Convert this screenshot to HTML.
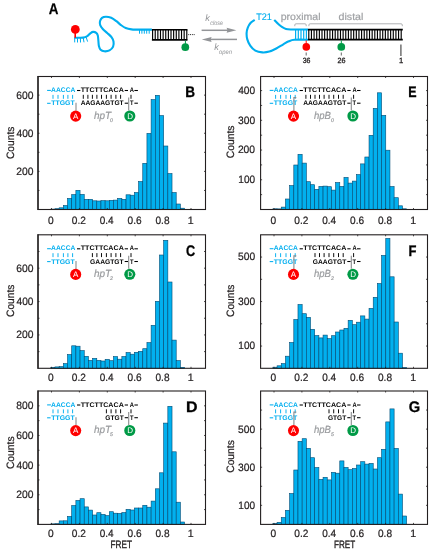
<!DOCTYPE html><html><head><meta charset="utf-8"><style>html,body{margin:0;padding:0;background:#fff}svg{display:block;will-change:transform}</style></head><body><svg width="430" height="550" viewBox="0 0 430 550" font-family='"Liberation Sans", sans-serif' text-rendering="geometricPrecision">
<style>.b{fill:#02b0ee;stroke:#034a73;stroke-width:0.6}</style>
<rect width="430" height="550" fill="#fff"/>
<text x="48.87" y="13.6" font-size="15.4" fill="#000" text-anchor="start" font-weight="bold" font-style="normal" textLength="9.69" lengthAdjust="spacingAndGlyphs" stroke="#000" stroke-width="0.25">A</text>
<path d="M74.30 37.80C75.77 37.77 80.93 37.88 83.10 37.60C85.27 37.32 86.05 36.85 87.30 36.10C88.55 35.35 89.63 33.80 90.60 33.10C91.57 32.40 92.17 31.95 93.10 31.90C94.03 31.85 95.42 32.20 96.20 32.80C96.98 33.40 97.43 34.13 97.80 35.50C98.17 36.87 98.22 39.25 98.40 41.00C98.58 42.75 98.53 44.53 98.90 46.00C99.27 47.47 99.70 48.92 100.60 49.80C101.50 50.68 102.82 51.20 104.30 51.30C105.78 51.40 108.03 51.18 109.50 50.40C110.97 49.62 112.43 48.08 113.10 46.60C113.77 45.12 113.77 43.07 113.50 41.50C113.23 39.93 112.50 38.58 111.50 37.20C110.50 35.82 108.92 34.53 107.50 33.20C106.08 31.87 104.22 30.53 103.00 29.20C101.78 27.87 100.70 26.52 100.20 25.20C99.70 23.88 99.70 22.52 100.00 21.30C100.30 20.08 101.02 18.67 102.00 17.90C102.98 17.13 104.37 16.72 105.90 16.70C107.43 16.68 109.45 17.05 111.20 17.80C112.95 18.55 114.77 19.98 116.40 21.20C118.03 22.42 119.45 23.97 121.00 25.10C122.55 26.23 123.95 27.28 125.70 28.00C127.45 28.72 129.62 29.13 131.50 29.40C133.38 29.67 133.60 29.57 137.00 29.60C140.40 29.63 149.42 29.60 151.90 29.60" fill="none" stroke="#00aeef" stroke-width="2.1" stroke-linecap="butt"/>
<path d="M74.7 37.8L74.7 42.4M77.5 37.8L77.5 42.5M80.4 37.8L80.5 42.5M83.2 37.6L84.0 42.3M86.0 36.8L87.6 41.6" stroke="#00aeef" stroke-width="1.0"/>
<path d="M139.5 29.6V33.7M141.9 29.6V33.7M144.3 29.6V33.7M146.7 29.6V33.7M149.2 29.6V33.7" stroke="#00aeef" stroke-width="1.0"/>
<path d="M75.2 32V37.8" stroke="#fe0000" stroke-width="1.6"/>
<circle cx="75.3" cy="29.4" r="4.4" fill="#fe0000"/>
<path d="M151.9 29.75H187.5M151.9 39.85H187.5" stroke="#000" stroke-width="1.7"/>
<path d="M152.60 30V39.6M155.23 30V39.6M157.86 30V39.6M160.49 30V39.6M163.12 30V39.6M165.75 30V39.6M168.38 30V39.6M171.01 30V39.6M173.64 30V39.6M176.27 30V39.6M178.90 30V39.6M181.53 30V39.6M184.16 30V39.6M186.79 30V39.6" stroke="#000" stroke-width="1.15"/>
<path d="M188.3 34.6H194.6" stroke="#000" stroke-width="0.9" stroke-dasharray="0.9 0.9"/>
<path d="M185.4 40.5V44" stroke="#009a46" stroke-width="1.0"/>
<circle cx="185.3" cy="47.2" r="3.85" fill="#009a46"/>
<path d="M201.6 30.3H229" stroke="#939598" stroke-width="1.5"/>
<path d="M236.4 30.3L226.6 27.8L227.5 30.3L226.6 32.8Z" fill="#939598"/>
<path d="M210 39.4H237" stroke="#939598" stroke-width="1.5"/>
<path d="M201.8 39.4L211.6 36.9L210.7 39.4L211.6 41.9Z" fill="#939598"/>
<text x="205.2" y="20.8" font-size="9.2" fill="#939598" text-anchor="start" font-weight="normal" font-style="italic">k</text>
<text x="210.3" y="24.6" font-size="6.4" fill="#939598" text-anchor="start" font-weight="normal" font-style="italic" textLength="12.6" lengthAdjust="spacingAndGlyphs">close</text>
<text x="214.2" y="50.1" font-size="9.2" fill="#939598" text-anchor="start" font-weight="normal" font-style="italic">k</text>
<text x="218.9" y="53.6" font-size="6.4" fill="#939598" text-anchor="start" font-weight="normal" font-style="italic" textLength="13" lengthAdjust="spacingAndGlyphs">open</text>
<text x="256.2" y="19.9" font-size="9.6" fill="#00aeef" text-anchor="start" font-weight="normal" font-style="normal" textLength="15.65" lengthAdjust="spacingAndGlyphs" stroke="#00aeef" stroke-width="0.15">T21</text>
<path d="M254.70 19.90C254.03 20.38 251.85 21.52 250.70 22.80C249.55 24.08 248.48 25.88 247.80 27.60C247.12 29.32 246.68 31.13 246.60 33.10C246.52 35.07 246.70 37.32 247.30 39.40C247.90 41.48 248.87 43.73 250.20 45.60C251.53 47.47 253.28 49.47 255.30 50.60C257.32 51.73 259.97 52.23 262.30 52.40C264.63 52.57 266.97 52.25 269.30 51.60C271.63 50.95 273.97 49.72 276.30 48.50C278.63 47.28 281.22 45.50 283.30 44.30C285.38 43.10 286.95 42.05 288.80 41.30C290.65 40.55 291.20 40.07 294.40 39.80C297.60 39.53 305.73 39.72 308.00 39.70" fill="none" stroke="#00aeef" stroke-width="2.1"/>
<path d="M274.20 19.90C274.78 20.48 276.42 22.23 277.70 23.40C278.98 24.57 280.52 25.98 281.90 26.90C283.28 27.82 284.38 28.47 286.00 28.90C287.62 29.33 290.20 29.40 291.60 29.50C293.00 29.60 291.67 29.50 294.40 29.50C297.13 29.50 305.73 29.50 308.00 29.50" fill="none" stroke="#00aeef" stroke-width="2.1"/>
<path d="M295.60 29.8V39.4M298.30 29.8V39.4M301.00 29.8V39.4M303.70 29.8V39.4M306.40 29.8V39.4" stroke="#00aeef" stroke-width="1.2"/>
<path d="M307.9 29.6H402.8M307.9 39.6H402.8" stroke="#000" stroke-width="1.7"/>
<path d="M308.80 30V39.3M311.44 30V39.3M314.08 30V39.3M316.72 30V39.3M319.36 30V39.3M322.00 30V39.3M324.64 30V39.3M327.28 30V39.3M329.92 30V39.3M332.56 30V39.3M335.20 30V39.3M337.84 30V39.3M340.48 30V39.3M343.12 30V39.3M345.76 30V39.3M348.40 30V39.3M351.04 30V39.3M353.68 30V39.3M356.32 30V39.3M358.96 30V39.3M361.60 30V39.3M364.24 30V39.3M366.88 30V39.3M369.52 30V39.3M372.16 30V39.3M374.80 30V39.3M377.44 30V39.3M380.08 30V39.3M382.72 30V39.3M385.36 30V39.3M388.00 30V39.3M390.64 30V39.3M393.28 30V39.3M395.92 30V39.3M398.56 30V39.3M401.20 30V39.3" stroke="#000" stroke-width="1.15"/>
<path d="M294.8 26.2V25Q294.8 23.8 296 23.8H305Q306.2 23.8 306.2 25V26.2M308.9 26.2V25Q308.9 23.8 310.1 23.8H401.1Q402.3 23.8 402.3 25V26.2" fill="none" stroke="#a7a9ac" stroke-width="0.9"/>
<text x="280.72" y="20.3" font-size="10" fill="#a0a2a5" text-anchor="start" font-weight="normal" font-style="normal" textLength="39.78" lengthAdjust="spacingAndGlyphs" stroke="#a0a2a5" stroke-width="0.2">proximal</text>
<text x="338.55" y="20" font-size="10" fill="#a0a2a5" text-anchor="start" font-weight="normal" font-style="normal" textLength="24.86" lengthAdjust="spacingAndGlyphs" stroke="#a0a2a5" stroke-width="0.2">distal</text>
<path d="M306.2 40.4V43.5" stroke="#fe0000" stroke-width="1.0"/>
<circle cx="306.3" cy="46.9" r="3.8" fill="#fe0000"/>
<path d="M341.3 40.4V43.5" stroke="#009a46" stroke-width="1.0"/>
<circle cx="341.3" cy="46.9" r="3.85" fill="#009a46"/>
<path d="M306.2 52.5V55.5M341.3 52.5V55.5" stroke="#555" stroke-width="0.9"/>
<path d="M400.9 44.4V55.9" stroke="#666" stroke-width="1.4"/>
<text x="302.63" y="62.6" font-size="7.6" fill="#231f20" text-anchor="start" font-weight="normal" font-style="normal" textLength="7.77" lengthAdjust="spacingAndGlyphs" stroke="#231f20" stroke-width="0.3">36</text>
<text x="337.54" y="62.6" font-size="7.6" fill="#231f20" text-anchor="start" font-weight="normal" font-style="normal" textLength="7.98" lengthAdjust="spacingAndGlyphs" stroke="#231f20" stroke-width="0.3">26</text>
<text x="401" y="62.6" font-size="7.6" fill="#231f20" text-anchor="middle" font-weight="normal" font-style="normal" stroke="#231f20" stroke-width="0.3">1</text>
<rect x="50.8" y="209.1" width="4.18" height="0.4" class="b"/>
<rect x="54.98" y="208.7" width="4.18" height="0.8" class="b"/>
<rect x="59.16" y="207.8" width="4.18" height="1.7" class="b"/>
<rect x="63.34" y="205.5" width="4.18" height="4" class="b"/>
<rect x="67.52" y="198.4" width="4.18" height="11.1" class="b"/>
<rect x="71.7" y="194.6" width="4.18" height="14.9" class="b"/>
<rect x="75.88" y="190.3" width="4.18" height="19.2" class="b"/>
<rect x="80.06" y="194.4" width="4.18" height="15.1" class="b"/>
<rect x="84.24" y="199.3" width="4.18" height="10.2" class="b"/>
<rect x="88.42" y="199.3" width="4.18" height="10.2" class="b"/>
<rect x="92.6" y="200.8" width="4.18" height="8.7" class="b"/>
<rect x="96.78" y="201" width="4.18" height="8.5" class="b"/>
<rect x="100.96" y="200.65" width="4.18" height="8.85" class="b"/>
<rect x="105.14" y="200.8" width="4.18" height="8.7" class="b"/>
<rect x="109.32" y="200.3" width="4.18" height="9.2" class="b"/>
<rect x="113.5" y="200.1" width="4.18" height="9.4" class="b"/>
<rect x="117.68" y="198.4" width="4.18" height="11.1" class="b"/>
<rect x="121.86" y="199.3" width="4.18" height="10.2" class="b"/>
<rect x="126.04" y="194.8" width="4.18" height="14.7" class="b"/>
<rect x="130.22" y="195.2" width="4.18" height="14.3" class="b"/>
<rect x="134.4" y="192.5" width="4.18" height="17" class="b"/>
<rect x="138.58" y="181.5" width="4.18" height="28" class="b"/>
<rect x="142.76" y="163.3" width="4.18" height="46.2" class="b"/>
<rect x="146.94" y="133.4" width="4.18" height="76.1" class="b"/>
<rect x="151.12" y="99.6" width="4.18" height="109.9" class="b"/>
<rect x="155.3" y="95.3" width="4.18" height="114.2" class="b"/>
<rect x="159.48" y="115.6" width="4.18" height="93.9" class="b"/>
<rect x="163.66" y="146" width="4.18" height="63.5" class="b"/>
<rect x="167.84" y="173.6" width="4.18" height="35.9" class="b"/>
<rect x="172.02" y="192.5" width="4.18" height="17" class="b"/>
<rect x="176.2" y="204" width="4.18" height="5.5" class="b"/>
<rect x="180.38" y="208.2" width="4.18" height="1.3" class="b"/>
<rect x="38" y="76.5" width="167.5" height="133" fill="none" stroke="#231f20" stroke-width="1.1"/>
<path d="M38 75.95V210.05" stroke="#231f20" stroke-width="1.3"/>
<path d="M51.5 76.5v1.5M51.5 209.5v-1.5" stroke="#231f20" stroke-width="0.8"/>
<text x="48.05" y="223.5" font-size="10.6" fill="#231f20" text-anchor="start" font-weight="normal" font-style="normal" textLength="5.7" lengthAdjust="spacingAndGlyphs" stroke="#231f20" stroke-width="0.22">0</text>
<path d="M79.4 76.5v1.5M79.4 209.5v-1.5" stroke="#231f20" stroke-width="0.8"/>
<text x="71.8" y="223.5" font-size="10.6" fill="#231f20" text-anchor="start" font-weight="normal" font-style="normal" textLength="14.11" lengthAdjust="spacingAndGlyphs" stroke="#231f20" stroke-width="0.22">0.2</text>
<path d="M107.3 76.5v1.5M107.3 209.5v-1.5" stroke="#231f20" stroke-width="0.8"/>
<text x="99.71" y="223.5" font-size="10.6" fill="#231f20" text-anchor="start" font-weight="normal" font-style="normal" textLength="13.88" lengthAdjust="spacingAndGlyphs" stroke="#231f20" stroke-width="0.22">0.4</text>
<path d="M135.2 76.5v1.5M135.2 209.5v-1.5" stroke="#231f20" stroke-width="0.8"/>
<text x="127.61" y="223.5" font-size="10.6" fill="#231f20" text-anchor="start" font-weight="normal" font-style="normal" textLength="14.04" lengthAdjust="spacingAndGlyphs" stroke="#231f20" stroke-width="0.22">0.6</text>
<path d="M163.1 76.5v1.5M163.1 209.5v-1.5" stroke="#231f20" stroke-width="0.8"/>
<text x="155.51" y="223.5" font-size="10.6" fill="#231f20" text-anchor="start" font-weight="normal" font-style="normal" textLength="14.03" lengthAdjust="spacingAndGlyphs" stroke="#231f20" stroke-width="0.22">0.8</text>
<path d="M191 76.5v1.5M191 209.5v-1.5" stroke="#231f20" stroke-width="0.8"/>
<text x="190.6" y="223.5" font-size="10.6" fill="#231f20" text-anchor="middle" font-weight="normal" font-style="normal" stroke="#231f20" stroke-width="0.22">1</text>
<path d="M38 190.44h1.5M205.5 190.44h-1.5" stroke="#231f20" stroke-width="0.8"/>
<path d="M38 171.38h1.5M205.5 171.38h-1.5" stroke="#231f20" stroke-width="0.8"/>
<text x="16.28" y="174.78" font-size="10.7" fill="#231f20" text-anchor="start" font-weight="normal" font-style="normal" textLength="17.22" lengthAdjust="spacingAndGlyphs" stroke="#231f20" stroke-width="0.22">200</text>
<path d="M38 152.32h1.5M205.5 152.32h-1.5" stroke="#231f20" stroke-width="0.8"/>
<path d="M38 133.26h1.5M205.5 133.26h-1.5" stroke="#231f20" stroke-width="0.8"/>
<text x="16.57" y="136.66" font-size="10.7" fill="#231f20" text-anchor="start" font-weight="normal" font-style="normal" textLength="16.93" lengthAdjust="spacingAndGlyphs" stroke="#231f20" stroke-width="0.22">400</text>
<path d="M38 114.2h1.5M205.5 114.2h-1.5" stroke="#231f20" stroke-width="0.8"/>
<path d="M38 95.14h1.5M205.5 95.14h-1.5" stroke="#231f20" stroke-width="0.8"/>
<text x="16.28" y="98.54" font-size="10.7" fill="#231f20" text-anchor="start" font-weight="normal" font-style="normal" textLength="17.23" lengthAdjust="spacingAndGlyphs" stroke="#231f20" stroke-width="0.22">600</text>
<text x="-0.52" y="0" font-size="10.7" fill="#231f20" textLength="32.39" lengthAdjust="spacingAndGlyphs" transform="translate(13.5 158.5) rotate(-90)" stroke="#231f20" stroke-width="0.22">Counts</text>
<text x="51.13" y="92" font-size="6.7" fill="#00aeef" text-anchor="start" font-weight="bold" font-style="normal" textLength="24.24" lengthAdjust="spacingAndGlyphs">AACCA</text>
<text x="51.22" y="105.3" font-size="6.7" fill="#00aeef" text-anchor="start" font-weight="bold" font-style="normal" textLength="23.55" lengthAdjust="spacingAndGlyphs">TTGGT</text>
<text x="80.72" y="92" font-size="6.7" fill="#000" text-anchor="start" font-weight="bold" font-style="normal" textLength="43.07" lengthAdjust="spacingAndGlyphs">TTCTTCACA</text>
<text x="129.86" y="92" font-size="6.7" fill="#000" text-anchor="start" font-weight="bold" font-style="normal" textLength="4.2" lengthAdjust="spacingAndGlyphs">A</text>
<text x="80.63" y="105.3" font-size="6.7" fill="#000" text-anchor="start" font-weight="bold" font-style="normal" textLength="43.04" lengthAdjust="spacingAndGlyphs">AAGAAGTGT</text>
<text x="129.94" y="105.3" font-size="6.7" fill="#000" text-anchor="start" font-weight="bold" font-style="normal" textLength="3.53" lengthAdjust="spacingAndGlyphs">T</text>
<rect x="47.10" y="89.88" width="3.80" height="1.05" fill="#00aeef"/>
<rect x="47.10" y="102.78" width="3.50" height="1.05" fill="#00aeef"/>
<rect x="77.00" y="89.98" width="3.30" height="1.05" fill="#000"/>
<rect x="124.70" y="89.98" width="3.30" height="1.05" fill="#000"/>
<rect x="134.40" y="89.98" width="3.50" height="1.05" fill="#000"/>
<rect x="124.70" y="102.68" width="3.30" height="1.05" fill="#000"/>
<rect x="134.40" y="102.68" width="3.50" height="1.05" fill="#000"/>
<path d="M53.00 94.90V98.80M58.00 94.90V98.80M63.40 94.90V98.80M67.90 94.90V98.80M72.60 94.90V98.80" stroke="#00aeef" stroke-width="0.95"/>
<path d="M83.30 94.80V98.80M87.90 94.80V98.80M92.40 94.80V98.80M96.90 94.80V98.80M101.50 94.80V98.80M106.40 94.80V98.80M111.10 94.80V98.80M115.90 94.80V98.80M120.60 94.80V98.80M131.00 94.80V98.80" stroke="#000" stroke-width="0.95"/>
<path d="M128.70 97.40V110.50" stroke="#8a8c8e" stroke-width="1.1"/>
<path d="M76.00 102.80V110.60" stroke="#8a8c8e" stroke-width="1.1"/>
<circle cx="75.70" cy="116.10" r="5.55" fill="#fe0000"/>
<text x="75.7" y="118.9" font-size="8" fill="#fff" text-anchor="middle" font-weight="normal" font-style="normal">A</text>
<circle cx="129.80" cy="116.00" r="5.55" fill="#009a46"/>
<text x="130.1" y="118.8" font-size="8" fill="#fff" text-anchor="middle" font-weight="normal" font-style="normal">D</text>
<text x="94" y="118.8" font-size="10.4" fill="#9a9c9f" text-anchor="start" font-weight="normal" font-style="italic" textLength="17.2" lengthAdjust="spacingAndGlyphs" stroke="#9a9c9f" stroke-width="0.2">hpT</text>
<text x="110.1" y="121.5" font-size="5.2" fill="#9a9c9f" text-anchor="start" font-weight="normal" font-style="italic" stroke="#9a9c9f" stroke-width="0.2">0</text>
<text x="185.19" y="96.8" font-size="15.3" fill="#000" text-anchor="start" font-weight="bold" font-style="normal" textLength="9.83" lengthAdjust="spacingAndGlyphs" stroke="#000" stroke-width="0.3">B</text>
<rect x="50.8" y="367.3" width="4.18" height="1" class="b"/>
<rect x="54.98" y="366.9" width="4.18" height="1.4" class="b"/>
<rect x="59.16" y="366.6" width="4.18" height="1.7" class="b"/>
<rect x="63.34" y="363.6" width="4.18" height="4.7" class="b"/>
<rect x="67.52" y="354.5" width="4.18" height="13.8" class="b"/>
<rect x="71.7" y="345.8" width="4.18" height="22.5" class="b"/>
<rect x="75.88" y="346.2" width="4.18" height="22.1" class="b"/>
<rect x="80.06" y="350.6" width="4.18" height="17.7" class="b"/>
<rect x="84.24" y="356.3" width="4.18" height="12" class="b"/>
<rect x="88.42" y="360.4" width="4.18" height="7.9" class="b"/>
<rect x="92.6" y="358.4" width="4.18" height="9.9" class="b"/>
<rect x="96.78" y="360.4" width="4.18" height="7.9" class="b"/>
<rect x="100.96" y="361" width="4.18" height="7.3" class="b"/>
<rect x="105.14" y="359.3" width="4.18" height="9" class="b"/>
<rect x="109.32" y="360.7" width="4.18" height="7.6" class="b"/>
<rect x="113.5" y="356.6" width="4.18" height="11.7" class="b"/>
<rect x="117.68" y="359.2" width="4.18" height="9.1" class="b"/>
<rect x="121.86" y="356.5" width="4.18" height="11.8" class="b"/>
<rect x="126.04" y="352.5" width="4.18" height="15.8" class="b"/>
<rect x="130.22" y="354.2" width="4.18" height="14.1" class="b"/>
<rect x="134.4" y="352.3" width="4.18" height="16" class="b"/>
<rect x="138.58" y="351.3" width="4.18" height="17" class="b"/>
<rect x="142.76" y="348.7" width="4.18" height="19.6" class="b"/>
<rect x="146.94" y="342.6" width="4.18" height="25.7" class="b"/>
<rect x="151.12" y="325.3" width="4.18" height="43" class="b"/>
<rect x="155.3" y="301.3" width="4.18" height="67" class="b"/>
<rect x="159.48" y="255" width="4.18" height="113.3" class="b"/>
<rect x="163.66" y="240.3" width="4.18" height="128" class="b"/>
<rect x="167.84" y="282" width="4.18" height="86.3" class="b"/>
<rect x="172.02" y="340.1" width="4.18" height="28.2" class="b"/>
<rect x="176.2" y="360.6" width="4.18" height="7.7" class="b"/>
<rect x="180.38" y="367.3" width="4.18" height="1" class="b"/>
<rect x="38" y="234.8" width="167.5" height="133.5" fill="none" stroke="#231f20" stroke-width="1.1"/>
<path d="M38 234.25V368.85" stroke="#231f20" stroke-width="1.3"/>
<path d="M51.5 234.8v1.5M51.5 368.3v-1.5" stroke="#231f20" stroke-width="0.8"/>
<text x="48.05" y="380.8" font-size="10.6" fill="#231f20" text-anchor="start" font-weight="normal" font-style="normal" textLength="5.7" lengthAdjust="spacingAndGlyphs" stroke="#231f20" stroke-width="0.22">0</text>
<path d="M79.4 234.8v1.5M79.4 368.3v-1.5" stroke="#231f20" stroke-width="0.8"/>
<text x="71.8" y="380.8" font-size="10.6" fill="#231f20" text-anchor="start" font-weight="normal" font-style="normal" textLength="14.11" lengthAdjust="spacingAndGlyphs" stroke="#231f20" stroke-width="0.22">0.2</text>
<path d="M107.3 234.8v1.5M107.3 368.3v-1.5" stroke="#231f20" stroke-width="0.8"/>
<text x="99.71" y="380.8" font-size="10.6" fill="#231f20" text-anchor="start" font-weight="normal" font-style="normal" textLength="13.88" lengthAdjust="spacingAndGlyphs" stroke="#231f20" stroke-width="0.22">0.4</text>
<path d="M135.2 234.8v1.5M135.2 368.3v-1.5" stroke="#231f20" stroke-width="0.8"/>
<text x="127.61" y="380.8" font-size="10.6" fill="#231f20" text-anchor="start" font-weight="normal" font-style="normal" textLength="14.04" lengthAdjust="spacingAndGlyphs" stroke="#231f20" stroke-width="0.22">0.6</text>
<path d="M163.1 234.8v1.5M163.1 368.3v-1.5" stroke="#231f20" stroke-width="0.8"/>
<text x="155.51" y="380.8" font-size="10.6" fill="#231f20" text-anchor="start" font-weight="normal" font-style="normal" textLength="14.03" lengthAdjust="spacingAndGlyphs" stroke="#231f20" stroke-width="0.22">0.8</text>
<path d="M191 234.8v1.5M191 368.3v-1.5" stroke="#231f20" stroke-width="0.8"/>
<text x="190.6" y="380.8" font-size="10.6" fill="#231f20" text-anchor="middle" font-weight="normal" font-style="normal" stroke="#231f20" stroke-width="0.22">1</text>
<path d="M38 351.61h1.5M205.5 351.61h-1.5" stroke="#231f20" stroke-width="0.8"/>
<path d="M38 334.93h1.5M205.5 334.93h-1.5" stroke="#231f20" stroke-width="0.8"/>
<text x="16.28" y="338.32" font-size="10.7" fill="#231f20" text-anchor="start" font-weight="normal" font-style="normal" textLength="17.22" lengthAdjust="spacingAndGlyphs" stroke="#231f20" stroke-width="0.22">200</text>
<path d="M38 318.24h1.5M205.5 318.24h-1.5" stroke="#231f20" stroke-width="0.8"/>
<path d="M38 301.55h1.5M205.5 301.55h-1.5" stroke="#231f20" stroke-width="0.8"/>
<text x="16.57" y="304.95" font-size="10.7" fill="#231f20" text-anchor="start" font-weight="normal" font-style="normal" textLength="16.93" lengthAdjust="spacingAndGlyphs" stroke="#231f20" stroke-width="0.22">400</text>
<path d="M38 284.86h1.5M205.5 284.86h-1.5" stroke="#231f20" stroke-width="0.8"/>
<path d="M38 268.18h1.5M205.5 268.18h-1.5" stroke="#231f20" stroke-width="0.8"/>
<text x="16.28" y="271.57" font-size="10.7" fill="#231f20" text-anchor="start" font-weight="normal" font-style="normal" textLength="17.23" lengthAdjust="spacingAndGlyphs" stroke="#231f20" stroke-width="0.22">600</text>
<path d="M38 251.49h1.5M205.5 251.49h-1.5" stroke="#231f20" stroke-width="0.8"/>
<text x="-0.52" y="0" font-size="10.7" fill="#231f20" textLength="32.29" lengthAdjust="spacingAndGlyphs" transform="translate(13.5 316.4) rotate(-90)" stroke="#231f20" stroke-width="0.22">Counts</text>
<text x="51.13" y="250.3" font-size="6.7" fill="#00aeef" text-anchor="start" font-weight="bold" font-style="normal" textLength="24.24" lengthAdjust="spacingAndGlyphs">AACCA</text>
<text x="51.22" y="263.6" font-size="6.7" fill="#00aeef" text-anchor="start" font-weight="bold" font-style="normal" textLength="23.55" lengthAdjust="spacingAndGlyphs">TTGGT</text>
<text x="80.72" y="250.3" font-size="6.7" fill="#000" text-anchor="start" font-weight="bold" font-style="normal" textLength="43.07" lengthAdjust="spacingAndGlyphs">TTCTTCACA</text>
<text x="129.86" y="250.3" font-size="6.7" fill="#000" text-anchor="start" font-weight="bold" font-style="normal" textLength="4.2" lengthAdjust="spacingAndGlyphs">A</text>
<text x="90.12" y="263.6" font-size="6.7" fill="#000" text-anchor="start" font-weight="bold" font-style="normal" textLength="33.55" lengthAdjust="spacingAndGlyphs">GAAGTGT</text>
<text x="129.94" y="263.6" font-size="6.7" fill="#000" text-anchor="start" font-weight="bold" font-style="normal" textLength="3.53" lengthAdjust="spacingAndGlyphs">T</text>
<rect x="47.10" y="248.18" width="3.80" height="1.05" fill="#00aeef"/>
<rect x="47.10" y="261.08" width="3.50" height="1.05" fill="#00aeef"/>
<rect x="77.00" y="248.28" width="3.30" height="1.05" fill="#000"/>
<rect x="124.70" y="248.28" width="3.30" height="1.05" fill="#000"/>
<rect x="134.40" y="248.28" width="3.50" height="1.05" fill="#000"/>
<rect x="124.70" y="260.98" width="3.30" height="1.05" fill="#000"/>
<rect x="134.40" y="260.98" width="3.50" height="1.05" fill="#000"/>
<path d="M53.00 253.20V257.10M58.00 253.20V257.10M63.40 253.20V257.10M67.90 253.20V257.10M72.60 253.20V257.10" stroke="#00aeef" stroke-width="0.95"/>
<path d="M92.40 253.10V257.10M96.90 253.10V257.10M101.50 253.10V257.10M106.40 253.10V257.10M111.10 253.10V257.10M115.90 253.10V257.10M120.60 253.10V257.10M131.00 253.10V257.10" stroke="#000" stroke-width="0.95"/>
<path d="M128.70 255.70V268.80" stroke="#8a8c8e" stroke-width="1.1"/>
<path d="M76.00 261.10V268.90" stroke="#8a8c8e" stroke-width="1.1"/>
<circle cx="75.70" cy="274.40" r="5.55" fill="#fe0000"/>
<text x="75.7" y="277.2" font-size="8" fill="#fff" text-anchor="middle" font-weight="normal" font-style="normal">A</text>
<circle cx="129.80" cy="274.30" r="5.55" fill="#009a46"/>
<text x="130.1" y="277.1" font-size="8" fill="#fff" text-anchor="middle" font-weight="normal" font-style="normal">D</text>
<text x="94" y="277.1" font-size="10.4" fill="#9a9c9f" text-anchor="start" font-weight="normal" font-style="italic" textLength="17.2" lengthAdjust="spacingAndGlyphs" stroke="#9a9c9f" stroke-width="0.2">hpT</text>
<text x="110.1" y="279.8" font-size="5.2" fill="#9a9c9f" text-anchor="start" font-weight="normal" font-style="italic" stroke="#9a9c9f" stroke-width="0.2">2</text>
<text x="185.98" y="256" font-size="15.3" fill="#000" text-anchor="start" font-weight="bold" font-style="normal" textLength="9.17" lengthAdjust="spacingAndGlyphs" stroke="#000" stroke-width="0.3">C</text>
<rect x="50.8" y="523.9" width="4.18" height="0.5" class="b"/>
<rect x="54.98" y="523.7" width="4.18" height="0.7" class="b"/>
<rect x="59.16" y="520.9" width="4.18" height="3.5" class="b"/>
<rect x="63.34" y="520.8" width="4.18" height="3.6" class="b"/>
<rect x="67.52" y="516.4" width="4.18" height="8" class="b"/>
<rect x="71.7" y="505.5" width="4.18" height="18.9" class="b"/>
<rect x="75.88" y="500.4" width="4.18" height="24" class="b"/>
<rect x="80.06" y="498.7" width="4.18" height="25.7" class="b"/>
<rect x="84.24" y="506.9" width="4.18" height="17.5" class="b"/>
<rect x="88.42" y="510.1" width="4.18" height="14.3" class="b"/>
<rect x="92.6" y="515" width="4.18" height="9.4" class="b"/>
<rect x="96.78" y="512.7" width="4.18" height="11.7" class="b"/>
<rect x="100.96" y="514.4" width="4.18" height="10" class="b"/>
<rect x="105.14" y="515.6" width="4.18" height="8.8" class="b"/>
<rect x="109.32" y="511.7" width="4.18" height="12.7" class="b"/>
<rect x="113.5" y="513.2" width="4.18" height="11.2" class="b"/>
<rect x="117.68" y="513.4" width="4.18" height="11" class="b"/>
<rect x="121.86" y="512.5" width="4.18" height="11.9" class="b"/>
<rect x="126.04" y="509.3" width="4.18" height="15.1" class="b"/>
<rect x="130.22" y="510" width="4.18" height="14.4" class="b"/>
<rect x="134.4" y="508" width="4.18" height="16.4" class="b"/>
<rect x="138.58" y="508" width="4.18" height="16.4" class="b"/>
<rect x="142.76" y="505.3" width="4.18" height="19.1" class="b"/>
<rect x="146.94" y="507.2" width="4.18" height="17.2" class="b"/>
<rect x="151.12" y="501.1" width="4.18" height="23.3" class="b"/>
<rect x="155.3" y="488.8" width="4.18" height="35.6" class="b"/>
<rect x="159.48" y="472.8" width="4.18" height="51.6" class="b"/>
<rect x="163.66" y="423.1" width="4.18" height="101.3" class="b"/>
<rect x="167.84" y="406.3" width="4.18" height="118.1" class="b"/>
<rect x="172.02" y="451.8" width="4.18" height="72.6" class="b"/>
<rect x="176.2" y="502.2" width="4.18" height="22.2" class="b"/>
<rect x="180.38" y="522" width="4.18" height="2.4" class="b"/>
<rect x="38" y="391" width="167.5" height="133.4" fill="none" stroke="#231f20" stroke-width="1.1"/>
<path d="M38 390.45V524.95" stroke="#231f20" stroke-width="1.3"/>
<path d="M51.5 391v1.5M51.5 524.4v-1.5" stroke="#231f20" stroke-width="0.8"/>
<text x="48.05" y="537" font-size="10.6" fill="#231f20" text-anchor="start" font-weight="normal" font-style="normal" textLength="5.7" lengthAdjust="spacingAndGlyphs" stroke="#231f20" stroke-width="0.22">0</text>
<path d="M79.4 391v1.5M79.4 524.4v-1.5" stroke="#231f20" stroke-width="0.8"/>
<text x="71.8" y="537" font-size="10.6" fill="#231f20" text-anchor="start" font-weight="normal" font-style="normal" textLength="14.11" lengthAdjust="spacingAndGlyphs" stroke="#231f20" stroke-width="0.22">0.2</text>
<path d="M107.3 391v1.5M107.3 524.4v-1.5" stroke="#231f20" stroke-width="0.8"/>
<text x="99.71" y="537" font-size="10.6" fill="#231f20" text-anchor="start" font-weight="normal" font-style="normal" textLength="13.88" lengthAdjust="spacingAndGlyphs" stroke="#231f20" stroke-width="0.22">0.4</text>
<path d="M135.2 391v1.5M135.2 524.4v-1.5" stroke="#231f20" stroke-width="0.8"/>
<text x="127.61" y="537" font-size="10.6" fill="#231f20" text-anchor="start" font-weight="normal" font-style="normal" textLength="14.04" lengthAdjust="spacingAndGlyphs" stroke="#231f20" stroke-width="0.22">0.6</text>
<path d="M163.1 391v1.5M163.1 524.4v-1.5" stroke="#231f20" stroke-width="0.8"/>
<text x="155.51" y="537" font-size="10.6" fill="#231f20" text-anchor="start" font-weight="normal" font-style="normal" textLength="14.03" lengthAdjust="spacingAndGlyphs" stroke="#231f20" stroke-width="0.22">0.8</text>
<path d="M191 391v1.5M191 524.4v-1.5" stroke="#231f20" stroke-width="0.8"/>
<text x="190.6" y="537" font-size="10.6" fill="#231f20" text-anchor="middle" font-weight="normal" font-style="normal" stroke="#231f20" stroke-width="0.22">1</text>
<path d="M38 509.58h1.5M205.5 509.58h-1.5" stroke="#231f20" stroke-width="0.8"/>
<path d="M38 494.76h1.5M205.5 494.76h-1.5" stroke="#231f20" stroke-width="0.8"/>
<text x="16.28" y="498.16" font-size="10.7" fill="#231f20" text-anchor="start" font-weight="normal" font-style="normal" textLength="17.22" lengthAdjust="spacingAndGlyphs" stroke="#231f20" stroke-width="0.22">200</text>
<path d="M38 479.93h1.5M205.5 479.93h-1.5" stroke="#231f20" stroke-width="0.8"/>
<path d="M38 465.11h1.5M205.5 465.11h-1.5" stroke="#231f20" stroke-width="0.8"/>
<text x="16.57" y="468.51" font-size="10.7" fill="#231f20" text-anchor="start" font-weight="normal" font-style="normal" textLength="16.93" lengthAdjust="spacingAndGlyphs" stroke="#231f20" stroke-width="0.22">400</text>
<path d="M38 450.29h1.5M205.5 450.29h-1.5" stroke="#231f20" stroke-width="0.8"/>
<path d="M38 435.47h1.5M205.5 435.47h-1.5" stroke="#231f20" stroke-width="0.8"/>
<text x="16.28" y="438.87" font-size="10.7" fill="#231f20" text-anchor="start" font-weight="normal" font-style="normal" textLength="17.23" lengthAdjust="spacingAndGlyphs" stroke="#231f20" stroke-width="0.22">600</text>
<path d="M38 420.64h1.5M205.5 420.64h-1.5" stroke="#231f20" stroke-width="0.8"/>
<path d="M38 405.82h1.5M205.5 405.82h-1.5" stroke="#231f20" stroke-width="0.8"/>
<text x="16.35" y="409.22" font-size="10.7" fill="#231f20" text-anchor="start" font-weight="normal" font-style="normal" textLength="17.15" lengthAdjust="spacingAndGlyphs" stroke="#231f20" stroke-width="0.22">800</text>
<text x="-0.52" y="0" font-size="10.7" fill="#231f20" textLength="32.7" lengthAdjust="spacingAndGlyphs" transform="translate(13.5 468.6) rotate(-90)" stroke="#231f20" stroke-width="0.22">Counts</text>
<text x="51.13" y="406.5" font-size="6.7" fill="#00aeef" text-anchor="start" font-weight="bold" font-style="normal" textLength="24.24" lengthAdjust="spacingAndGlyphs">AACCA</text>
<text x="51.22" y="419.8" font-size="6.7" fill="#00aeef" text-anchor="start" font-weight="bold" font-style="normal" textLength="23.55" lengthAdjust="spacingAndGlyphs">TTGGT</text>
<text x="80.72" y="406.5" font-size="6.7" fill="#000" text-anchor="start" font-weight="bold" font-style="normal" textLength="43.07" lengthAdjust="spacingAndGlyphs">TTCTTCACA</text>
<text x="129.86" y="406.5" font-size="6.7" fill="#000" text-anchor="start" font-weight="bold" font-style="normal" textLength="4.2" lengthAdjust="spacingAndGlyphs">A</text>
<text x="105.33" y="419.8" font-size="6.7" fill="#000" text-anchor="start" font-weight="bold" font-style="normal" textLength="18.34" lengthAdjust="spacingAndGlyphs">GTGT</text>
<text x="129.94" y="419.8" font-size="6.7" fill="#000" text-anchor="start" font-weight="bold" font-style="normal" textLength="3.53" lengthAdjust="spacingAndGlyphs">T</text>
<rect x="47.10" y="404.38" width="3.80" height="1.05" fill="#00aeef"/>
<rect x="47.10" y="417.28" width="3.50" height="1.05" fill="#00aeef"/>
<rect x="77.00" y="404.48" width="3.30" height="1.05" fill="#000"/>
<rect x="124.70" y="404.48" width="3.30" height="1.05" fill="#000"/>
<rect x="134.40" y="404.48" width="3.50" height="1.05" fill="#000"/>
<rect x="124.70" y="417.18" width="3.30" height="1.05" fill="#000"/>
<rect x="134.40" y="417.18" width="3.50" height="1.05" fill="#000"/>
<path d="M53.00 409.40V413.30M58.00 409.40V413.30M63.40 409.40V413.30M67.90 409.40V413.30M72.60 409.40V413.30" stroke="#00aeef" stroke-width="0.95"/>
<path d="M106.40 409.30V413.30M111.10 409.30V413.30M115.90 409.30V413.30M120.60 409.30V413.30M131.00 409.30V413.30" stroke="#000" stroke-width="0.95"/>
<path d="M128.70 411.90V425.00" stroke="#8a8c8e" stroke-width="1.1"/>
<path d="M76.00 417.30V425.10" stroke="#8a8c8e" stroke-width="1.1"/>
<circle cx="75.70" cy="430.60" r="5.55" fill="#fe0000"/>
<text x="75.7" y="433.4" font-size="8" fill="#fff" text-anchor="middle" font-weight="normal" font-style="normal">A</text>
<circle cx="129.80" cy="430.50" r="5.55" fill="#009a46"/>
<text x="130.1" y="433.3" font-size="8" fill="#fff" text-anchor="middle" font-weight="normal" font-style="normal">D</text>
<text x="94" y="433.3" font-size="10.4" fill="#9a9c9f" text-anchor="start" font-weight="normal" font-style="italic" textLength="17.2" lengthAdjust="spacingAndGlyphs" stroke="#9a9c9f" stroke-width="0.2">hpT</text>
<text x="110.1" y="436" font-size="5.2" fill="#9a9c9f" text-anchor="start" font-weight="normal" font-style="italic" stroke="#9a9c9f" stroke-width="0.2">5</text>
<text x="186.03" y="411.9" font-size="15.3" fill="#000" text-anchor="start" font-weight="bold" font-style="normal" textLength="11.54" lengthAdjust="spacingAndGlyphs" stroke="#000" stroke-width="0.3">D</text>
<rect x="272.9" y="208.8" width="4.18" height="0.7" class="b"/>
<rect x="277.08" y="208.9" width="4.18" height="0.6" class="b"/>
<rect x="281.26" y="207.1" width="4.18" height="2.4" class="b"/>
<rect x="285.44" y="199" width="4.18" height="10.5" class="b"/>
<rect x="289.62" y="185.6" width="4.18" height="23.9" class="b"/>
<rect x="293.8" y="165" width="4.18" height="44.5" class="b"/>
<rect x="297.98" y="154.3" width="4.18" height="55.2" class="b"/>
<rect x="302.16" y="163.1" width="4.18" height="46.4" class="b"/>
<rect x="306.34" y="181.7" width="4.18" height="27.8" class="b"/>
<rect x="310.52" y="184.7" width="4.18" height="24.8" class="b"/>
<rect x="314.7" y="189.3" width="4.18" height="20.2" class="b"/>
<rect x="318.88" y="186.4" width="4.18" height="23.1" class="b"/>
<rect x="323.06" y="186.1" width="4.18" height="23.4" class="b"/>
<rect x="327.24" y="186.7" width="4.18" height="22.8" class="b"/>
<rect x="331.42" y="190.1" width="4.18" height="19.4" class="b"/>
<rect x="335.6" y="182.6" width="4.18" height="26.9" class="b"/>
<rect x="339.78" y="186.4" width="4.18" height="23.1" class="b"/>
<rect x="343.96" y="177.4" width="4.18" height="32.1" class="b"/>
<rect x="348.14" y="183.1" width="4.18" height="26.4" class="b"/>
<rect x="352.32" y="181.1" width="4.18" height="28.4" class="b"/>
<rect x="356.5" y="174.6" width="4.18" height="34.9" class="b"/>
<rect x="360.68" y="163.9" width="4.18" height="45.6" class="b"/>
<rect x="364.86" y="157" width="4.18" height="52.5" class="b"/>
<rect x="369.04" y="135.3" width="4.18" height="74.2" class="b"/>
<rect x="373.22" y="108.4" width="4.18" height="101.1" class="b"/>
<rect x="377.4" y="92.8" width="4.18" height="116.7" class="b"/>
<rect x="381.58" y="115.3" width="4.18" height="94.2" class="b"/>
<rect x="385.76" y="150.2" width="4.18" height="59.3" class="b"/>
<rect x="389.94" y="186.5" width="4.18" height="23" class="b"/>
<rect x="394.12" y="197.7" width="4.18" height="11.8" class="b"/>
<rect x="398.3" y="205.8" width="4.18" height="3.7" class="b"/>
<rect x="402.48" y="208.8" width="4.18" height="0.7" class="b"/>
<rect x="260.6" y="76.5" width="166.9" height="133" fill="none" stroke="#231f20" stroke-width="1.1"/>
<path d="M274 76.5v1.5M274 209.5v-1.5" stroke="#231f20" stroke-width="0.8"/>
<text x="270.55" y="223.5" font-size="10.6" fill="#231f20" text-anchor="start" font-weight="normal" font-style="normal" textLength="5.7" lengthAdjust="spacingAndGlyphs" stroke="#231f20" stroke-width="0.22">0</text>
<path d="M301.9 76.5v1.5M301.9 209.5v-1.5" stroke="#231f20" stroke-width="0.8"/>
<text x="294.3" y="223.5" font-size="10.6" fill="#231f20" text-anchor="start" font-weight="normal" font-style="normal" textLength="14.11" lengthAdjust="spacingAndGlyphs" stroke="#231f20" stroke-width="0.22">0.2</text>
<path d="M329.8 76.5v1.5M329.8 209.5v-1.5" stroke="#231f20" stroke-width="0.8"/>
<text x="322.21" y="223.5" font-size="10.6" fill="#231f20" text-anchor="start" font-weight="normal" font-style="normal" textLength="13.88" lengthAdjust="spacingAndGlyphs" stroke="#231f20" stroke-width="0.22">0.4</text>
<path d="M357.7 76.5v1.5M357.7 209.5v-1.5" stroke="#231f20" stroke-width="0.8"/>
<text x="350.11" y="223.5" font-size="10.6" fill="#231f20" text-anchor="start" font-weight="normal" font-style="normal" textLength="14.04" lengthAdjust="spacingAndGlyphs" stroke="#231f20" stroke-width="0.22">0.6</text>
<path d="M385.6 76.5v1.5M385.6 209.5v-1.5" stroke="#231f20" stroke-width="0.8"/>
<text x="378.01" y="223.5" font-size="10.6" fill="#231f20" text-anchor="start" font-weight="normal" font-style="normal" textLength="14.03" lengthAdjust="spacingAndGlyphs" stroke="#231f20" stroke-width="0.22">0.8</text>
<path d="M413.5 76.5v1.5M413.5 209.5v-1.5" stroke="#231f20" stroke-width="0.8"/>
<text x="413.1" y="223.5" font-size="10.6" fill="#231f20" text-anchor="middle" font-weight="normal" font-style="normal" stroke="#231f20" stroke-width="0.22">1</text>
<path d="M260.6 194.63h1.5M427.5 194.63h-1.5" stroke="#231f20" stroke-width="0.8"/>
<path d="M260.6 179.77h1.5M427.5 179.77h-1.5" stroke="#231f20" stroke-width="0.8"/>
<text x="238.33" y="183.17" font-size="10.7" fill="#231f20" text-anchor="start" font-weight="normal" font-style="normal" textLength="16.76" lengthAdjust="spacingAndGlyphs" stroke="#231f20" stroke-width="0.22">100</text>
<path d="M260.6 164.91h1.5M427.5 164.91h-1.5" stroke="#231f20" stroke-width="0.8"/>
<path d="M260.6 150.04h1.5M427.5 150.04h-1.5" stroke="#231f20" stroke-width="0.8"/>
<text x="237.88" y="153.44" font-size="10.7" fill="#231f20" text-anchor="start" font-weight="normal" font-style="normal" textLength="17.22" lengthAdjust="spacingAndGlyphs" stroke="#231f20" stroke-width="0.22">200</text>
<path d="M260.6 135.18h1.5M427.5 135.18h-1.5" stroke="#231f20" stroke-width="0.8"/>
<path d="M260.6 120.31h1.5M427.5 120.31h-1.5" stroke="#231f20" stroke-width="0.8"/>
<text x="238.01" y="123.71" font-size="10.7" fill="#231f20" text-anchor="start" font-weight="normal" font-style="normal" textLength="17.09" lengthAdjust="spacingAndGlyphs" stroke="#231f20" stroke-width="0.22">300</text>
<path d="M260.6 105.44h1.5M427.5 105.44h-1.5" stroke="#231f20" stroke-width="0.8"/>
<path d="M260.6 90.58h1.5M427.5 90.58h-1.5" stroke="#231f20" stroke-width="0.8"/>
<text x="238.17" y="93.98" font-size="10.7" fill="#231f20" text-anchor="start" font-weight="normal" font-style="normal" textLength="16.93" lengthAdjust="spacingAndGlyphs" stroke="#231f20" stroke-width="0.22">400</text>
<text x="-0.52" y="0" font-size="10.7" fill="#231f20" textLength="32.7" lengthAdjust="spacingAndGlyphs" transform="translate(234.1 157.7) rotate(-90)" stroke="#231f20" stroke-width="0.22">Counts</text>
<text x="273.73" y="92" font-size="6.7" fill="#00aeef" text-anchor="start" font-weight="bold" font-style="normal" textLength="24.24" lengthAdjust="spacingAndGlyphs">AACCA</text>
<text x="273.82" y="105.3" font-size="6.7" fill="#00aeef" text-anchor="start" font-weight="bold" font-style="normal" textLength="23.55" lengthAdjust="spacingAndGlyphs">TTGGT</text>
<text x="303.32" y="92" font-size="6.7" fill="#000" text-anchor="start" font-weight="bold" font-style="normal" textLength="43.07" lengthAdjust="spacingAndGlyphs">TTCTTCACA</text>
<text x="352.46" y="92" font-size="6.7" fill="#000" text-anchor="start" font-weight="bold" font-style="normal" textLength="4.2" lengthAdjust="spacingAndGlyphs">A</text>
<text x="303.23" y="105.3" font-size="6.7" fill="#000" text-anchor="start" font-weight="bold" font-style="normal" textLength="43.04" lengthAdjust="spacingAndGlyphs">AAGAAGTGT</text>
<text x="352.54" y="105.3" font-size="6.7" fill="#000" text-anchor="start" font-weight="bold" font-style="normal" textLength="3.53" lengthAdjust="spacingAndGlyphs">T</text>
<rect x="269.70" y="89.88" width="3.80" height="1.05" fill="#00aeef"/>
<rect x="269.70" y="102.78" width="3.50" height="1.05" fill="#00aeef"/>
<rect x="299.60" y="89.98" width="3.30" height="1.05" fill="#000"/>
<rect x="347.30" y="89.98" width="3.30" height="1.05" fill="#000"/>
<rect x="357.00" y="89.98" width="3.50" height="1.05" fill="#000"/>
<rect x="347.30" y="102.68" width="3.30" height="1.05" fill="#000"/>
<rect x="357.00" y="102.68" width="3.50" height="1.05" fill="#000"/>
<path d="M275.60 94.90V98.80M280.60 94.90V98.80M286.00 94.90V98.80M290.50 94.90V98.80M295.20 94.90V98.80" stroke="#00aeef" stroke-width="0.95"/>
<path d="M305.90 94.80V98.80M310.50 94.80V98.80M315.00 94.80V98.80M319.50 94.80V98.80M324.10 94.80V98.80M329.00 94.80V98.80M333.70 94.80V98.80M338.50 94.80V98.80M343.20 94.80V98.80M353.60 94.80V98.80" stroke="#000" stroke-width="0.95"/>
<path d="M351.30 97.40V110.50" stroke="#8a8c8e" stroke-width="1.1"/>
<path d="M296.30 97.60H293.90V110.80" fill="none" stroke="#8a8c8e" stroke-width="1.1"/>
<circle cx="293.50" cy="116.10" r="5.55" fill="#fe0000"/>
<text x="293.5" y="118.9" font-size="8" fill="#fff" text-anchor="middle" font-weight="normal" font-style="normal">A</text>
<circle cx="352.90" cy="116.00" r="5.55" fill="#009a46"/>
<text x="353.2" y="118.8" font-size="8" fill="#fff" text-anchor="middle" font-weight="normal" font-style="normal">D</text>
<text x="314" y="118.8" font-size="10.4" fill="#9a9c9f" text-anchor="start" font-weight="normal" font-style="italic" textLength="17" lengthAdjust="spacingAndGlyphs" stroke="#9a9c9f" stroke-width="0.2">hpB</text>
<text x="331" y="121.8" font-size="5.2" fill="#9a9c9f" text-anchor="start" font-weight="normal" font-style="italic" stroke="#9a9c9f" stroke-width="0.2">0</text>
<text x="408.27" y="96.8" font-size="15.3" fill="#000" text-anchor="start" font-weight="bold" font-style="normal" textLength="8.32" lengthAdjust="spacingAndGlyphs" stroke="#000" stroke-width="0.3">E</text>
<rect x="272.9" y="367.2" width="4.18" height="1.1" class="b"/>
<rect x="277.08" y="365.8" width="4.18" height="2.5" class="b"/>
<rect x="281.26" y="363.6" width="4.18" height="4.7" class="b"/>
<rect x="285.44" y="356.2" width="4.18" height="12.1" class="b"/>
<rect x="289.62" y="342.5" width="4.18" height="25.8" class="b"/>
<rect x="293.8" y="319.5" width="4.18" height="48.8" class="b"/>
<rect x="297.98" y="304.5" width="4.18" height="63.8" class="b"/>
<rect x="302.16" y="313.7" width="4.18" height="54.6" class="b"/>
<rect x="306.34" y="317.3" width="4.18" height="51" class="b"/>
<rect x="310.52" y="329.3" width="4.18" height="39" class="b"/>
<rect x="314.7" y="335.6" width="4.18" height="32.7" class="b"/>
<rect x="318.88" y="337.9" width="4.18" height="30.4" class="b"/>
<rect x="323.06" y="335.1" width="4.18" height="33.2" class="b"/>
<rect x="327.24" y="338.6" width="4.18" height="29.7" class="b"/>
<rect x="331.42" y="335.7" width="4.18" height="32.6" class="b"/>
<rect x="335.6" y="332" width="4.18" height="36.3" class="b"/>
<rect x="339.78" y="330" width="4.18" height="38.3" class="b"/>
<rect x="343.96" y="328.3" width="4.18" height="40" class="b"/>
<rect x="348.14" y="320.3" width="4.18" height="48" class="b"/>
<rect x="352.32" y="324.7" width="4.18" height="43.6" class="b"/>
<rect x="356.5" y="322.2" width="4.18" height="46.1" class="b"/>
<rect x="360.68" y="315.9" width="4.18" height="52.4" class="b"/>
<rect x="364.86" y="319.1" width="4.18" height="49.2" class="b"/>
<rect x="369.04" y="308.4" width="4.18" height="59.9" class="b"/>
<rect x="373.22" y="297.3" width="4.18" height="71" class="b"/>
<rect x="377.4" y="283.5" width="4.18" height="84.8" class="b"/>
<rect x="381.58" y="255.4" width="4.18" height="112.9" class="b"/>
<rect x="385.76" y="238.4" width="4.18" height="129.9" class="b"/>
<rect x="389.94" y="276.8" width="4.18" height="91.5" class="b"/>
<rect x="394.12" y="322" width="4.18" height="46.3" class="b"/>
<rect x="398.3" y="353.2" width="4.18" height="15.1" class="b"/>
<rect x="402.48" y="367.5" width="4.18" height="0.8" class="b"/>
<rect x="260.6" y="234.8" width="166.9" height="133.5" fill="none" stroke="#231f20" stroke-width="1.1"/>
<path d="M274 234.8v1.5M274 368.3v-1.5" stroke="#231f20" stroke-width="0.8"/>
<text x="270.55" y="380.8" font-size="10.6" fill="#231f20" text-anchor="start" font-weight="normal" font-style="normal" textLength="5.7" lengthAdjust="spacingAndGlyphs" stroke="#231f20" stroke-width="0.22">0</text>
<path d="M301.9 234.8v1.5M301.9 368.3v-1.5" stroke="#231f20" stroke-width="0.8"/>
<text x="294.3" y="380.8" font-size="10.6" fill="#231f20" text-anchor="start" font-weight="normal" font-style="normal" textLength="14.11" lengthAdjust="spacingAndGlyphs" stroke="#231f20" stroke-width="0.22">0.2</text>
<path d="M329.8 234.8v1.5M329.8 368.3v-1.5" stroke="#231f20" stroke-width="0.8"/>
<text x="322.21" y="380.8" font-size="10.6" fill="#231f20" text-anchor="start" font-weight="normal" font-style="normal" textLength="13.88" lengthAdjust="spacingAndGlyphs" stroke="#231f20" stroke-width="0.22">0.4</text>
<path d="M357.7 234.8v1.5M357.7 368.3v-1.5" stroke="#231f20" stroke-width="0.8"/>
<text x="350.11" y="380.8" font-size="10.6" fill="#231f20" text-anchor="start" font-weight="normal" font-style="normal" textLength="14.04" lengthAdjust="spacingAndGlyphs" stroke="#231f20" stroke-width="0.22">0.6</text>
<path d="M385.6 234.8v1.5M385.6 368.3v-1.5" stroke="#231f20" stroke-width="0.8"/>
<text x="378.01" y="380.8" font-size="10.6" fill="#231f20" text-anchor="start" font-weight="normal" font-style="normal" textLength="14.03" lengthAdjust="spacingAndGlyphs" stroke="#231f20" stroke-width="0.22">0.8</text>
<path d="M413.5 234.8v1.5M413.5 368.3v-1.5" stroke="#231f20" stroke-width="0.8"/>
<text x="413.1" y="380.8" font-size="10.6" fill="#231f20" text-anchor="middle" font-weight="normal" font-style="normal" stroke="#231f20" stroke-width="0.22">1</text>
<path d="M260.6 346.05h1.5M427.5 346.05h-1.5" stroke="#231f20" stroke-width="0.8"/>
<text x="238.33" y="349.45" font-size="10.7" fill="#231f20" text-anchor="start" font-weight="normal" font-style="normal" textLength="16.76" lengthAdjust="spacingAndGlyphs" stroke="#231f20" stroke-width="0.22">100</text>
<path d="M260.6 323.8h1.5M427.5 323.8h-1.5" stroke="#231f20" stroke-width="0.8"/>
<path d="M260.6 301.55h1.5M427.5 301.55h-1.5" stroke="#231f20" stroke-width="0.8"/>
<text x="238.01" y="304.95" font-size="10.7" fill="#231f20" text-anchor="start" font-weight="normal" font-style="normal" textLength="17.09" lengthAdjust="spacingAndGlyphs" stroke="#231f20" stroke-width="0.22">300</text>
<path d="M260.6 279.3h1.5M427.5 279.3h-1.5" stroke="#231f20" stroke-width="0.8"/>
<path d="M260.6 257.05h1.5M427.5 257.05h-1.5" stroke="#231f20" stroke-width="0.8"/>
<text x="237.99" y="260.45" font-size="10.7" fill="#231f20" text-anchor="start" font-weight="normal" font-style="normal" textLength="17.11" lengthAdjust="spacingAndGlyphs" stroke="#231f20" stroke-width="0.22">500</text>
<text x="-0.52" y="0" font-size="10.7" fill="#231f20" textLength="32.29" lengthAdjust="spacingAndGlyphs" transform="translate(234.1 316.4) rotate(-90)" stroke="#231f20" stroke-width="0.22">Counts</text>
<text x="273.73" y="250.3" font-size="6.7" fill="#00aeef" text-anchor="start" font-weight="bold" font-style="normal" textLength="24.24" lengthAdjust="spacingAndGlyphs">AACCA</text>
<text x="273.82" y="263.6" font-size="6.7" fill="#00aeef" text-anchor="start" font-weight="bold" font-style="normal" textLength="23.55" lengthAdjust="spacingAndGlyphs">TTGGT</text>
<text x="303.32" y="250.3" font-size="6.7" fill="#000" text-anchor="start" font-weight="bold" font-style="normal" textLength="43.07" lengthAdjust="spacingAndGlyphs">TTCTTCACA</text>
<text x="352.46" y="250.3" font-size="6.7" fill="#000" text-anchor="start" font-weight="bold" font-style="normal" textLength="4.2" lengthAdjust="spacingAndGlyphs">A</text>
<text x="312.72" y="263.6" font-size="6.7" fill="#000" text-anchor="start" font-weight="bold" font-style="normal" textLength="33.55" lengthAdjust="spacingAndGlyphs">GAAGTGT</text>
<text x="352.54" y="263.6" font-size="6.7" fill="#000" text-anchor="start" font-weight="bold" font-style="normal" textLength="3.53" lengthAdjust="spacingAndGlyphs">T</text>
<rect x="269.70" y="248.18" width="3.80" height="1.05" fill="#00aeef"/>
<rect x="269.70" y="261.08" width="3.50" height="1.05" fill="#00aeef"/>
<rect x="299.60" y="248.28" width="3.30" height="1.05" fill="#000"/>
<rect x="347.30" y="248.28" width="3.30" height="1.05" fill="#000"/>
<rect x="357.00" y="248.28" width="3.50" height="1.05" fill="#000"/>
<rect x="347.30" y="260.98" width="3.30" height="1.05" fill="#000"/>
<rect x="357.00" y="260.98" width="3.50" height="1.05" fill="#000"/>
<path d="M275.60 253.20V257.10M280.60 253.20V257.10M286.00 253.20V257.10M290.50 253.20V257.10M295.20 253.20V257.10" stroke="#00aeef" stroke-width="0.95"/>
<path d="M315.00 253.10V257.10M319.50 253.10V257.10M324.10 253.10V257.10M329.00 253.10V257.10M333.70 253.10V257.10M338.50 253.10V257.10M343.20 253.10V257.10M353.60 253.10V257.10" stroke="#000" stroke-width="0.95"/>
<path d="M351.30 255.70V268.80" stroke="#8a8c8e" stroke-width="1.1"/>
<path d="M296.30 255.90H293.90V269.10" fill="none" stroke="#8a8c8e" stroke-width="1.1"/>
<circle cx="293.50" cy="274.40" r="5.55" fill="#fe0000"/>
<text x="293.5" y="277.2" font-size="8" fill="#fff" text-anchor="middle" font-weight="normal" font-style="normal">A</text>
<circle cx="352.90" cy="274.30" r="5.55" fill="#009a46"/>
<text x="353.2" y="277.1" font-size="8" fill="#fff" text-anchor="middle" font-weight="normal" font-style="normal">D</text>
<text x="314" y="277.1" font-size="10.4" fill="#9a9c9f" text-anchor="start" font-weight="normal" font-style="italic" textLength="17" lengthAdjust="spacingAndGlyphs" stroke="#9a9c9f" stroke-width="0.2">hpB</text>
<text x="331" y="280.1" font-size="5.2" fill="#9a9c9f" text-anchor="start" font-weight="normal" font-style="italic" stroke="#9a9c9f" stroke-width="0.2">2</text>
<text x="408.43" y="256" font-size="15.3" fill="#000" text-anchor="start" font-weight="bold" font-style="normal" textLength="7.95" lengthAdjust="spacingAndGlyphs" stroke="#000" stroke-width="0.3">F</text>
<rect x="272.9" y="523.5" width="4.18" height="0.9" class="b"/>
<rect x="277.08" y="522.3" width="4.18" height="2.1" class="b"/>
<rect x="281.26" y="517.5" width="4.18" height="6.9" class="b"/>
<rect x="285.44" y="510.3" width="4.18" height="14.1" class="b"/>
<rect x="289.62" y="493.5" width="4.18" height="30.9" class="b"/>
<rect x="293.8" y="470" width="4.18" height="54.4" class="b"/>
<rect x="297.98" y="441.3" width="4.18" height="83.1" class="b"/>
<rect x="302.16" y="438.7" width="4.18" height="85.7" class="b"/>
<rect x="306.34" y="448.3" width="4.18" height="76.1" class="b"/>
<rect x="310.52" y="457.7" width="4.18" height="66.7" class="b"/>
<rect x="314.7" y="467.5" width="4.18" height="56.9" class="b"/>
<rect x="318.88" y="479.4" width="4.18" height="45" class="b"/>
<rect x="323.06" y="477.3" width="4.18" height="47.1" class="b"/>
<rect x="327.24" y="479.9" width="4.18" height="44.5" class="b"/>
<rect x="331.42" y="472.4" width="4.18" height="52" class="b"/>
<rect x="335.6" y="473.2" width="4.18" height="51.2" class="b"/>
<rect x="339.78" y="460.9" width="4.18" height="63.5" class="b"/>
<rect x="343.96" y="467.4" width="4.18" height="57" class="b"/>
<rect x="348.14" y="469.7" width="4.18" height="54.7" class="b"/>
<rect x="352.32" y="468.5" width="4.18" height="55.9" class="b"/>
<rect x="356.5" y="465" width="4.18" height="59.4" class="b"/>
<rect x="360.68" y="461.7" width="4.18" height="62.7" class="b"/>
<rect x="364.86" y="464.1" width="4.18" height="60.3" class="b"/>
<rect x="369.04" y="463.4" width="4.18" height="61" class="b"/>
<rect x="373.22" y="469" width="4.18" height="55.4" class="b"/>
<rect x="377.4" y="457.7" width="4.18" height="66.7" class="b"/>
<rect x="381.58" y="449.3" width="4.18" height="75.1" class="b"/>
<rect x="385.76" y="421.9" width="4.18" height="102.5" class="b"/>
<rect x="389.94" y="408.9" width="4.18" height="115.5" class="b"/>
<rect x="394.12" y="448.4" width="4.18" height="76" class="b"/>
<rect x="398.3" y="494.1" width="4.18" height="30.3" class="b"/>
<rect x="402.48" y="516" width="4.18" height="8.4" class="b"/>
<rect x="260.6" y="391" width="166.9" height="133.4" fill="none" stroke="#231f20" stroke-width="1.1"/>
<path d="M274 391v1.5M274 524.4v-1.5" stroke="#231f20" stroke-width="0.8"/>
<text x="270.55" y="537" font-size="10.6" fill="#231f20" text-anchor="start" font-weight="normal" font-style="normal" textLength="5.7" lengthAdjust="spacingAndGlyphs" stroke="#231f20" stroke-width="0.22">0</text>
<path d="M301.9 391v1.5M301.9 524.4v-1.5" stroke="#231f20" stroke-width="0.8"/>
<text x="294.3" y="537" font-size="10.6" fill="#231f20" text-anchor="start" font-weight="normal" font-style="normal" textLength="14.11" lengthAdjust="spacingAndGlyphs" stroke="#231f20" stroke-width="0.22">0.2</text>
<path d="M329.8 391v1.5M329.8 524.4v-1.5" stroke="#231f20" stroke-width="0.8"/>
<text x="322.21" y="537" font-size="10.6" fill="#231f20" text-anchor="start" font-weight="normal" font-style="normal" textLength="13.88" lengthAdjust="spacingAndGlyphs" stroke="#231f20" stroke-width="0.22">0.4</text>
<path d="M357.7 391v1.5M357.7 524.4v-1.5" stroke="#231f20" stroke-width="0.8"/>
<text x="350.11" y="537" font-size="10.6" fill="#231f20" text-anchor="start" font-weight="normal" font-style="normal" textLength="14.04" lengthAdjust="spacingAndGlyphs" stroke="#231f20" stroke-width="0.22">0.6</text>
<path d="M385.6 391v1.5M385.6 524.4v-1.5" stroke="#231f20" stroke-width="0.8"/>
<text x="378.01" y="537" font-size="10.6" fill="#231f20" text-anchor="start" font-weight="normal" font-style="normal" textLength="14.03" lengthAdjust="spacingAndGlyphs" stroke="#231f20" stroke-width="0.22">0.8</text>
<path d="M413.5 391v1.5M413.5 524.4v-1.5" stroke="#231f20" stroke-width="0.8"/>
<text x="413.1" y="537" font-size="10.6" fill="#231f20" text-anchor="middle" font-weight="normal" font-style="normal" stroke="#231f20" stroke-width="0.22">1</text>
<path d="M260.6 505.34h1.5M427.5 505.34h-1.5" stroke="#231f20" stroke-width="0.8"/>
<text x="238.33" y="508.74" font-size="10.7" fill="#231f20" text-anchor="start" font-weight="normal" font-style="normal" textLength="16.76" lengthAdjust="spacingAndGlyphs" stroke="#231f20" stroke-width="0.22">100</text>
<path d="M260.6 486.29h1.5M427.5 486.29h-1.5" stroke="#231f20" stroke-width="0.8"/>
<path d="M260.6 467.23h1.5M427.5 467.23h-1.5" stroke="#231f20" stroke-width="0.8"/>
<text x="238.01" y="470.63" font-size="10.7" fill="#231f20" text-anchor="start" font-weight="normal" font-style="normal" textLength="17.09" lengthAdjust="spacingAndGlyphs" stroke="#231f20" stroke-width="0.22">300</text>
<path d="M260.6 448.17h1.5M427.5 448.17h-1.5" stroke="#231f20" stroke-width="0.8"/>
<path d="M260.6 429.11h1.5M427.5 429.11h-1.5" stroke="#231f20" stroke-width="0.8"/>
<text x="237.99" y="432.51" font-size="10.7" fill="#231f20" text-anchor="start" font-weight="normal" font-style="normal" textLength="17.11" lengthAdjust="spacingAndGlyphs" stroke="#231f20" stroke-width="0.22">500</text>
<path d="M260.6 410.06h1.5M427.5 410.06h-1.5" stroke="#231f20" stroke-width="0.8"/>
<text x="-0.52" y="0" font-size="10.7" fill="#231f20" textLength="32.7" lengthAdjust="spacingAndGlyphs" transform="translate(234.1 472.3) rotate(-90)" stroke="#231f20" stroke-width="0.22">Counts</text>
<text x="273.73" y="406.5" font-size="6.7" fill="#00aeef" text-anchor="start" font-weight="bold" font-style="normal" textLength="24.24" lengthAdjust="spacingAndGlyphs">AACCA</text>
<text x="273.82" y="419.8" font-size="6.7" fill="#00aeef" text-anchor="start" font-weight="bold" font-style="normal" textLength="23.55" lengthAdjust="spacingAndGlyphs">TTGGT</text>
<text x="303.32" y="406.5" font-size="6.7" fill="#000" text-anchor="start" font-weight="bold" font-style="normal" textLength="43.07" lengthAdjust="spacingAndGlyphs">TTCTTCACA</text>
<text x="352.46" y="406.5" font-size="6.7" fill="#000" text-anchor="start" font-weight="bold" font-style="normal" textLength="4.2" lengthAdjust="spacingAndGlyphs">A</text>
<text x="327.93" y="419.8" font-size="6.7" fill="#000" text-anchor="start" font-weight="bold" font-style="normal" textLength="18.34" lengthAdjust="spacingAndGlyphs">GTGT</text>
<text x="352.54" y="419.8" font-size="6.7" fill="#000" text-anchor="start" font-weight="bold" font-style="normal" textLength="3.53" lengthAdjust="spacingAndGlyphs">T</text>
<rect x="269.70" y="404.38" width="3.80" height="1.05" fill="#00aeef"/>
<rect x="269.70" y="417.28" width="3.50" height="1.05" fill="#00aeef"/>
<rect x="299.60" y="404.48" width="3.30" height="1.05" fill="#000"/>
<rect x="347.30" y="404.48" width="3.30" height="1.05" fill="#000"/>
<rect x="357.00" y="404.48" width="3.50" height="1.05" fill="#000"/>
<rect x="347.30" y="417.18" width="3.30" height="1.05" fill="#000"/>
<rect x="357.00" y="417.18" width="3.50" height="1.05" fill="#000"/>
<path d="M275.60 409.40V413.30M280.60 409.40V413.30M286.00 409.40V413.30M290.50 409.40V413.30M295.20 409.40V413.30" stroke="#00aeef" stroke-width="0.95"/>
<path d="M329.00 409.30V413.30M333.70 409.30V413.30M338.50 409.30V413.30M343.20 409.30V413.30M353.60 409.30V413.30" stroke="#000" stroke-width="0.95"/>
<path d="M351.30 411.90V425.00" stroke="#8a8c8e" stroke-width="1.1"/>
<path d="M296.30 412.10H293.90V425.30" fill="none" stroke="#8a8c8e" stroke-width="1.1"/>
<circle cx="293.50" cy="430.60" r="5.55" fill="#fe0000"/>
<text x="293.5" y="433.4" font-size="8" fill="#fff" text-anchor="middle" font-weight="normal" font-style="normal">A</text>
<circle cx="352.90" cy="430.50" r="5.55" fill="#009a46"/>
<text x="353.2" y="433.3" font-size="8" fill="#fff" text-anchor="middle" font-weight="normal" font-style="normal">D</text>
<text x="314" y="433.3" font-size="10.4" fill="#9a9c9f" text-anchor="start" font-weight="normal" font-style="italic" textLength="17" lengthAdjust="spacingAndGlyphs" stroke="#9a9c9f" stroke-width="0.2">hpB</text>
<text x="331" y="436.3" font-size="5.2" fill="#9a9c9f" text-anchor="start" font-weight="normal" font-style="italic" stroke="#9a9c9f" stroke-width="0.2">5</text>
<text x="408.7" y="411.9" font-size="15.3" fill="#000" text-anchor="start" font-weight="bold" font-style="normal" textLength="11.41" lengthAdjust="spacingAndGlyphs" stroke="#000" stroke-width="0.3">G</text>
<text x="110.53" y="548" font-size="10.6" fill="#231f20" text-anchor="start" font-weight="normal" font-style="normal" textLength="21.46" lengthAdjust="spacingAndGlyphs" stroke="#231f20" stroke-width="0.35">FRET</text>
<text x="334.04" y="548" font-size="10.6" fill="#231f20" text-anchor="start" font-weight="normal" font-style="normal" textLength="21.15" lengthAdjust="spacingAndGlyphs" stroke="#231f20" stroke-width="0.35">FRET</text>
</svg></body></html>
